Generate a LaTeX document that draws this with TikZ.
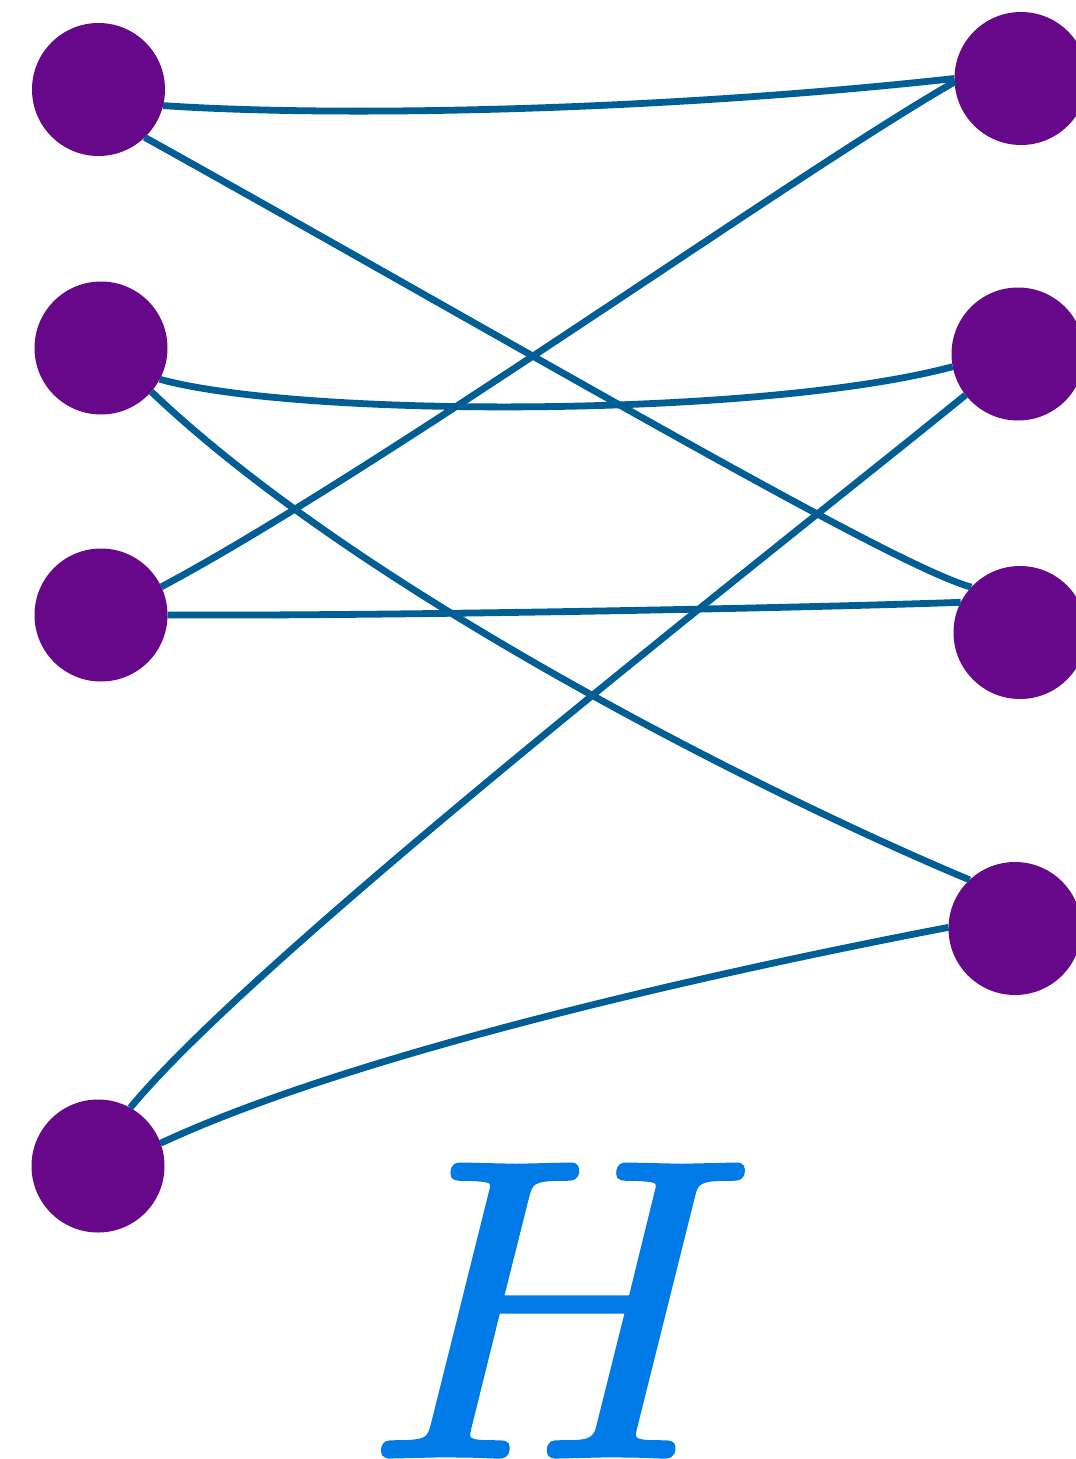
\documentclass[tikz,border=0pt]{standalone}
\usepackage{fontspec}
\newfontfamily\hmath{Latin Modern Math}[FakeBold=1.2]
\definecolor{vpurple}{HTML}{67088A}
\definecolor{eblue}{HTML}{005E94}
\definecolor{hblue}{HTML}{007AE6}
\begin{document}
\begin{tikzpicture}[x=1pt,y=-1pt,
  vertex/.style={circle,fill=vpurple,minimum size=133pt,inner sep=0pt,outer sep=0pt},
  edge/.style={draw=eblue,line width=6.8pt}]
\useasboundingbox (0,0) rectangle (1076,1459);
\clip (0,0) rectangle (1076,1459);
\node[vertex] (L1) at (98.5,89.5) {};
\node[vertex] (L2) at (101,348) {};
\node[vertex] (L3) at (101,615) {};
\node[vertex] (L4) at (98,1166) {};
\node[vertex] (R1) at (1021,78.5) {};
\node[vertex] (R2) at (1018,354) {};
\node[vertex] (R3) at (1020,632.5) {};
\node[vertex] (R4) at (1015,928.5) {};
\path[edge] (L1.-14) .. controls (330,117) and (650,112) .. (R1.180);
\path[edge] (L1.-46) .. controls (500,335) and (890,565) .. (R3.137);
\path[edge] (L2.-28) .. controls (300,418) and (760,418) .. (R2.191);
\path[edge] (L2.-41) .. controls (370,600) and (790,805) .. (R4.133);
\path[edge] (L3.25) .. controls (380,470) and (800,170) .. (R1.183);
\path[edge] (L3.0) .. controls (400,616) and (800,608) .. (R3.153);
\path[edge] (L4.61) .. controls (260,950) and (800,530) .. (R2.218);
\path[edge] (L4.20) .. controls (350,1055) and (700,975) .. (R4.179);
\node[text=hblue,inner sep=0pt,anchor=base,font=\hmath\fontsize{426}{426}\selectfont] (H) at (544,1456) {𝐻};
\end{tikzpicture}
\end{document}
